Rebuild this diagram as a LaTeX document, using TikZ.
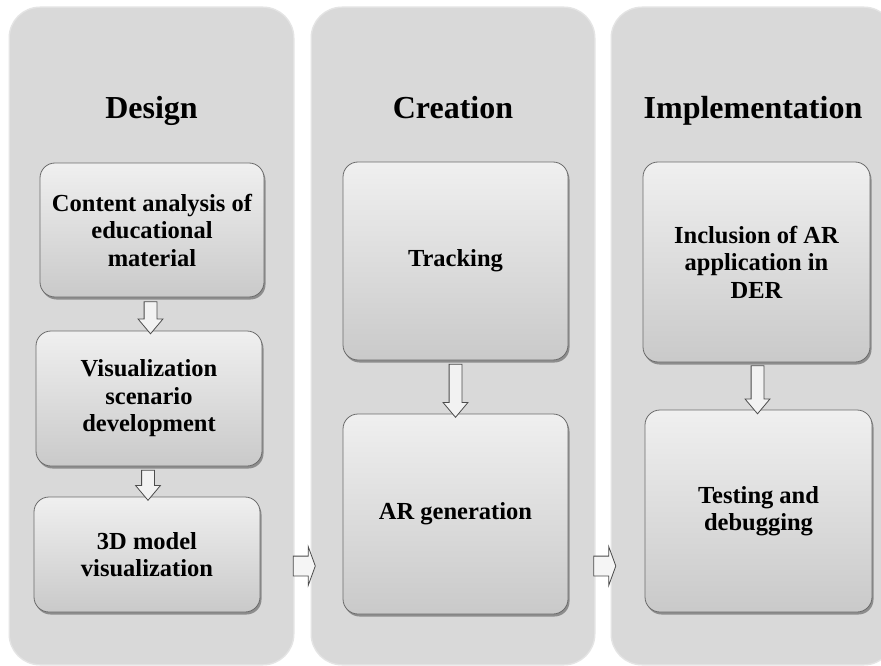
\documentclass[tikz,border=0pt]{standalone}
\usepackage{fontspec}
\setmainfont{Liberation Serif}
\usetikzlibrary{calc,shapes.arrows,shadows}
\definecolor{PanelClr}{rgb}{0.85,0.85,0.85}
\definecolor{EdgeClr}{rgb}{0.42,0.42,0.42}

\tikzset{
  panel/.style={fill=PanelClr,rounded corners=30pt,minimum width=283pt,minimum height=656pt,
    preaction={draw=PanelClr!70!white,line width=3pt,rounded corners=30pt}},
  title/.style={anchor=base,font=\fontsize{32}{38}\selectfont\bfseries},
  stepbox/.style={draw=EdgeClr,line width=0.8pt,rounded corners=15pt,
    top color=gray!12,bottom color=gray!42,align=center,
    font=\fontsize{24.5}{27.5}\selectfont\bfseries,
    drop shadow={shadow xshift=1.5pt,shadow yshift=-2.5pt,opacity=.35,fill=black}},
  varrow/.style={single arrow,rotate=-90,draw=black!70,fill=gray!10,line width=0.8pt,
    minimum height=#1,inner xsep=0pt,inner ysep=6pt,single arrow head extend=6pt,
    single arrow tip angle=80},
  harrow/.style={single arrow,draw=black!70,fill=gray!8,line width=0.8pt,
    minimum height=22pt,inner xsep=0pt,inner ysep=9.5pt,single arrow head extend=9.5pt,
    single arrow tip angle=140}
}

\begin{document}
\begin{tikzpicture}[x=1pt,y=-1pt]
\useasboundingbox (0,0) rectangle (881,666);
\clip (0,0) rectangle (881,666);
\fill[white] (0,0) rectangle (881,666);

% three phases
\node[panel] (design) at (151.5,336) {};
\node[panel,minimum width=282pt] (creation) at (453,336) {};
\node[panel,minimum width=282pt] (impl) at (753,336) {};

\node[title] (designT) at ([yshift=-111pt]design.north) {Design};
\node[title] (creationT) at ([yshift=-111pt]creation.north) {Creation};
\node[title] (implT) at ([yshift=-111pt]impl.north) {Implementation};

% design steps
\node[stepbox,minimum width=224pt,minimum height=134pt] (content) at (152,230)
  {Content analysis of\\educational\\material};
\node[stepbox,minimum width=226pt,minimum height=135pt] (scenario) at (149,398.5)
  {Visualization\\scenario\\development};
\node[stepbox,minimum width=226pt,minimum height=115pt] (model) at (147,554.5)
  {3D model\\visualization};

% creation steps
\node[stepbox,minimum width=225pt,minimum height=198pt] (tracking) at (455.5,261) {Tracking};
\node[stepbox,minimum width=225pt,minimum height=200pt] (argen) at (455.5,514) {AR generation};

% implementation steps
\node[stepbox,minimum width=227pt,minimum height=200pt] (inclusion) at (756.5,262)
  {Inclusion of AR\\application in\\DER};
\node[stepbox,minimum width=227pt,minimum height=202pt] (testing) at (758.5,511)
  {Testing and\\debugging};

% arrows inside the phases
\node[varrow=32pt] (a1) at ($(content.south)!0.5!(scenario.north)$) {};
\node[varrow=30pt] (a2) at ($(scenario.south)!0.5!(model.north)$) {};
\node[varrow=53pt] (a3) at ($(tracking.south)!0.5!(argen.north)$) {};
\node[varrow=48pt] (a4) at ($(inclusion.south)!0.5!(testing.north)$) {};

% arrows between the phases
\coordinate (m1) at ($(design.east)!0.5!(creation.west)$);
\coordinate (m2) at ($(creation.east)!0.5!(impl.west)$);
\node[harrow] (h1) at (m1 |- 0,566) {};
\node[harrow] (h2) at (m2 |- 0,566) {};
\end{tikzpicture}
\end{document}
